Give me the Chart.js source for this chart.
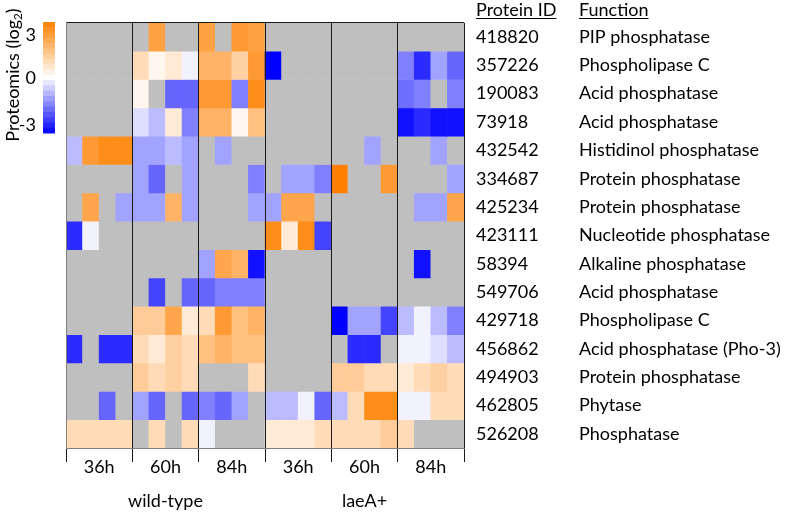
<!DOCTYPE html>
<html><head><meta charset="utf-8">
<script src="https://cdn.jsdelivr.net/npm/chart.js@4.4.0/dist/chart.umd.min.js"></script>
<style>html,body{margin:0;padding:0;background:#fff;}#wrap{width:790px;height:513px;}</style>
</head><body><div id="wrap"><canvas id="c" width="790" height="513"></canvas></div>
<script>
const proteinIds = ['418820','357226','190083','73918','432542','334687','425234','423111','58394','549706','429718','456862','494903','462805','526208'];
const functionNames = ['PIP phosphatase','Phospholipase C','Acid phosphatase','Acid phosphatase','Histidinol phosphatase','Protein phosphatase','Protein phosphatase','Nucleotide phosphatase','Alkaline phosphatase','Acid phosphatase','Phospholipase C','Acid phosphatase (Pho-3)','Protein phosphatase','Phytase','Phosphatase'];
const timeLabels = ['36h','60h','84h','36h','60h','84h'];
const strainLabels = ['wild-type','laeA+'];
const colorbarLabels = ['3','0','-3'];
const n = null;
// columns: WT 36h x4 | WT 60h x4 | WT 84h x4 | laeA+ 36h x4 | laeA+ 60h x4 | laeA+ 84h x4
const log2Values = [
  [n,n,n,n,  n,2.2,n,n,  2.2,n,2.4,2.2,  n,n,n,n,  n,n,n,n,  n,n,n,n],
  [n,n,n,n,  0.85,0.2,0.5,-0.15,  1.8,1.8,1.1,2.4,  -3,n,n,n,  n,n,n,n,  -1.5,-2.5,-1.1,-1.8],
  [n,n,n,n,  0.2,n,-1.8,-1.8,  2.4,2.4,-1.5,2.7,  n,n,n,n,  n,n,n,n,  -1.7,-1.5,n,-1.5],
  [n,n,n,n,  -0.4,-0.8,0.5,-1.5,  1.8,1.8,0.2,1.5,  n,n,n,n,  n,n,n,n,  -2.8,-2.5,-2.8,-2.8],
  [-0.8,2.4,2.7,2.7,  -1.1,-1.1,-0.8,-1.1,  n,-1.1,n,n,  n,n,n,n,  n,n,-1.1,n,  n,n,-1.1,n],
  [n,n,n,n,  -1.1,-1.8,n,-1.1,  n,n,n,-1.5,  n,-1.1,-1.1,-1.5,  3,n,n,2.4,  n,n,n,-1.1],
  [n,2.1,n,-1.1,  -1.1,-1.1,1.8,-1.1,  n,n,n,-1.1,  -1.1,2.1,2.1,n,  n,n,n,n,  n,-1.1,-1.1,2.1],
  [-2.5,-0.15,n,n,  n,n,n,n,  n,n,n,n,  2.7,0.5,2.7,-2.2,  n,n,n,n,  n,n,n,n],
  [n,n,n,n,  n,n,n,n,  -1.1,2.1,1.8,-2.8,  n,n,n,n,  n,n,n,n,  n,-2.8,n,n],
  [n,n,n,n,  n,-2.2,n,-1.8,  -1.8,-1.5,-1.5,-1.5,  n,n,n,n,  n,n,n,n,  n,n,n,n],
  [n,n,n,n,  1.2,1.2,2.1,0.5,  0.85,2.4,1.5,1.8,  n,n,n,n,  -3,-1.1,-1.1,-2.2,  -0.8,-0.15,-0.8,-1.5],
  [-2.5,n,-2.5,-2.5,  0.85,0.5,1.1,0.85,  1.5,1.8,1.5,1.5,  n,n,n,n,  n,-2.5,-2.5,n,  -0.15,-0.15,-0.4,-0.8],
  [n,n,n,n,  1.2,0.85,1.1,0.85,  n,n,n,0.85,  n,n,n,n,  1.2,1.2,0.85,0.85,  0.5,0.85,1.1,0.85],
  [n,n,-1.8,n,  -1.1,-1.8,n,-1.8,  -1.5,-1.8,-1.1,n,  -0.8,-0.8,-0.15,-1.8,  -0.8,0.85,2.7,2.7,  -0.15,-0.15,0.85,0.85],
  [0.85,0.85,0.85,0.85,  n,0.85,n,0.85,  -0.15,n,n,n,  0.5,0.5,0.5,0.85,  0.85,0.85,0.85,1.2,  0.85,n,n,n]
];

const FONT = 'Lato';
const FS = 18;
const nCols = log2Values[0].length;
const nRows = proteinIds.length;

function colorFor(v) {
  if (v === null || v === undefined) return '#bfbfbf';
  if (v >= 0) {
    const t = Math.min(v / 3, 1);
    return `rgb(255,${Math.round(255 - t * 127)},${Math.round(255 - t * 255)})`;
  }
  const t = Math.min(-v / 3, 1);
  const c = Math.round(255 - t * 255);
  return `rgb(${c},${c},255)`;
}

const datasets = log2Values.map((row, r) => ({
  label: proteinIds[r],
  data: row.map((v, c) => ({ x: c + 0.5, y: [r, r + 1], v })),
  backgroundColor: ctx => colorFor(ctx.raw ? ctx.raw.v : null),
  borderWidth: 0,
  grouped: false,
  barPercentage: 1,
  categoryPercentage: 1
}));

const decorPlugin = {
  id: 'decor',
  afterDraw(chart) {
    const ctx = chart.ctx;
    ctx.save();
    // colour bar
    const cbX = 43, cbW = 12, cbTop = 22, cbBot = 133, bands = 21;
    const bh = (cbBot - cbTop) / bands;
    for (let i = 0; i < bands; i++) {
      const v = 3 - (i + 0.5) * 6 / bands;
      ctx.fillStyle = colorFor(v);
      ctx.fillRect(cbX, cbTop + i * bh, cbW, bh + 0.5);
    }
    ctx.fillStyle = '#000';
    ctx.font = `${FS}px ${FONT}`;
    ctx.textAlign = 'right';
    ctx.textBaseline = 'middle';
    const ys = [35, 78, 125];
    colorbarLabels.forEach((t, i) => ctx.fillText(t, 36, ys[i]));
    // rotated title
    ctx.translate(13, 75);
    ctx.rotate(-Math.PI / 2);
    ctx.textBaseline = 'middle';
    ctx.textAlign = 'left';
    const main = 'Proteomics (log';
    const sub = '2';
    const close = ')';
    ctx.font = `${FS}px ${FONT}`;
    const w1 = ctx.measureText(main).width;
    const w3 = ctx.measureText(close).width;
    ctx.font = `${FS * 0.65}px ${FONT}`;
    const w2 = ctx.measureText(sub).width;
    const total = w1 + w2 + w3;
    let x = -total / 2;
    ctx.font = `${FS}px ${FONT}`;
    ctx.fillText(main, x, 0); x += w1;
    ctx.font = `${FS * 0.65}px ${FONT}`;
    ctx.fillText(sub, x, 5); x += w2;
    ctx.font = `${FS}px ${FONT}`;
    ctx.fillText(close, x, 0);
    ctx.restore();
    // headers
    ctx.save();
    ctx.fillStyle = '#000';
    ctx.strokeStyle = '#000';
    ctx.lineWidth = 1;
    ctx.font = `${FS}px ${FONT}`;
    ctx.textAlign = 'left';
    ctx.textBaseline = 'alphabetic';
    const heads = [['Protein ID', chart.scales.yId.left + 12], ['Function', chart.scales.yFn.left + 12]];
    heads.forEach(([t, hx]) => {
      ctx.fillText(t, hx, 16);
      const w = ctx.measureText(t).width;
      ctx.beginPath();
      ctx.moveTo(hx, 18.5);
      ctx.lineTo(hx + w, 18.5);
      ctx.stroke();
    });
    ctx.restore();
  }
};

const boundaryColor = c => (c.tick && c.tick.value % 4 === 0) ? '#1a1a1a' : 'rgba(0,0,0,0)';

new Chart(document.getElementById('c'), {
  type: 'bar',
  data: { datasets },
  options: {
    responsive: false,
    animation: false,
    devicePixelRatio: 1,
    layout: { padding: { left: 66, top: 21, right: 0, bottom: 0 } },
    plugins: { legend: { display: false }, tooltip: { enabled: false } },
    events: [],
    scales: {
      x: {
        type: 'linear', position: 'bottom', min: 0, max: nCols, offset: false, weight: 0,
        afterBuildTicks: s => { const t = []; for (let v = 0; v <= nCols; v += 2) t.push({ value: v }); s.ticks = t; },
        grid: { offset: false, z: 1, tickLength: 14, lineWidth: 1, color: boundaryColor, tickColor: boundaryColor },
        border: { display: true, color: '#808080', width: 1, z: 1 },
        ticks: {
          autoSkip: false, maxRotation: 0, minRotation: 0, padding: -5.5, color: '#000',
          font: { family: FONT, size: FS },
          callback: v => (v % 4 === 2) ? timeLabels[(v - 2) / 4] : ''
        },
        afterFit: s => { s.height = 35; }
      },
      xStrain: {
        type: 'linear', position: 'bottom', min: 0, max: nCols, offset: false, weight: 1,
        afterBuildTicks: s => { s.ticks = [{ value: 6 }, { value: 18 }]; },
        grid: { display: false, drawTicks: false },
        border: { display: false },
        ticks: {
          autoSkip: false, maxRotation: 0, minRotation: 0, padding: 7.5, color: '#000',
          font: { family: FONT, size: FS },
          callback: (v, i) => strainLabels[i]
        },
        afterFit: s => { s.height = 30; }
      },
      y: {
        type: 'linear', position: 'left', min: 0, max: nRows, reverse: true,
        afterBuildTicks: s => { s.ticks = [{ value: 0 }]; },
        grid: { z: 1, drawTicks: false, color: '#1a1a1a', lineWidth: 1 },
        border: { display: true, color: '#808080', z: 1 },
        ticks: { display: false },
        afterFit: s => { s.width = 0; }
      },
      yId: {
        type: 'linear', position: 'right', min: 0, max: nRows, reverse: true, weight: 0,
        afterBuildTicks: s => { s.ticks = proteinIds.map((_, i) => ({ value: i + 0.5 })); },
        grid: { display: false, drawTicks: false },
        border: { display: false },
        ticks: { autoSkip: false, padding: 12, color: '#000', font: { family: FONT, size: FS }, callback: (v) => proteinIds[Math.floor(v)] },
        afterFit: s => { s.width = 103; }
      },
      yFn: {
        type: 'linear', position: 'right', min: 0, max: nRows, reverse: true, weight: 1,
        afterBuildTicks: s => { s.ticks = functionNames.map((_, i) => ({ value: i + 0.5 })); },
        grid: { display: false, drawTicks: false },
        border: { display: false },
        ticks: { autoSkip: false, padding: 12, color: '#000', font: { family: FONT, size: FS }, callback: (v) => functionNames[Math.floor(v)] },
        afterFit: s => { s.width = 223; }
      }
    }
  },
  plugins: [decorPlugin]
});
</script>
</body></html>
